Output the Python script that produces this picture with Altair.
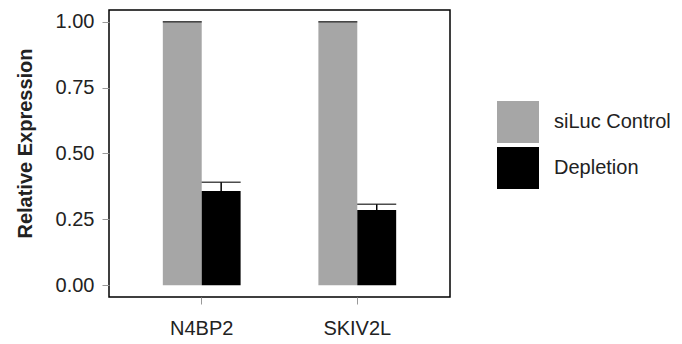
import altair as alt
import pandas as pd

genes = ["N4BP2", "SKIV2L"]
conditions = ["siLuc Control", "Depletion"]
ctrl_mean = [1.0, 1.0]
ctrl_upper = [1.0, 1.0]
dep_mean = [0.358, 0.285]
dep_upper = [0.391, 0.307]
y_ticks = [0.0, 0.25, 0.5, 0.75, 1.0]
colors = ["#a6a6a6", "#000000"]

rows = []
for i, g in enumerate(genes):
    rows.append(dict(gene=g, cond=conditions[0], mean=ctrl_mean[i], upper=ctrl_upper[i]))
    rows.append(dict(gene=g, cond=conditions[1], mean=dep_mean[i], upper=dep_upper[i]))
df = pd.DataFrame(rows)

FONT = "Liberation Sans"
TXT = "#222222"

x_enc = alt.X(
    "gene:N", sort=genes,
    scale=alt.Scale(paddingInner=0.5, paddingOuter=0.346),
    axis=alt.Axis(title=None, labelAngle=0, domain=False, tickSize=7, tickColor="#999999",
                  labelFontSize=20, labelColor=TXT, labelFont=FONT, labelPadding=14),
)
xoff = alt.XOffset("cond:N", sort=conditions, scale=alt.Scale(paddingInner=0, paddingOuter=0))
y_scale = alt.Scale(domain=[-0.045, 1.045], nice=False, zero=False)
y_axis = alt.Axis(values=y_ticks, format=".2f", title="Relative Expression", grid=False, domain=False,
                  tickSize=7, tickColor="#999999", labelFontSize=20, labelColor=TXT, labelFont=FONT,
                  labelPadding=8, titleFontSize=20, titleFontWeight="bold", titleColor=TXT,
                  titleFont=FONT, titlePadding=20, titleY=133)

base = alt.Chart(df)

bars = base.mark_bar().encode(
    x=x_enc, xOffset=xoff,
    y=alt.Y("mean:Q", scale=y_scale, axis=y_axis),
    y2=alt.datum(0),
    color=alt.Color("cond:N", sort=conditions,
                    scale=alt.Scale(domain=conditions, range=colors),
                    legend=alt.Legend(title=None, orient="none", legendX=388, legendY=91,
                                      symbolType="square", symbolSize=1764, symbolStrokeWidth=0,
                                      symbolOpacity=1, labelFontSize=20, labelColor=TXT,
                                      labelFont=FONT, labelOffset=15, rowPadding=4)),
)

rules = base.mark_rule(color="black", strokeWidth=1.5).encode(
    x=x_enc, xOffset=xoff,
    y=alt.Y("mean:Q", scale=y_scale),
    y2="upper:Q",
)

caps = base.mark_tick(color="black", thickness=1.5, size=39).encode(
    x=x_enc, xOffset=xoff,
    y=alt.Y("upper:Q", scale=y_scale),
)

chart = alt.layer(bars, rules, caps).properties(
    width=341, height=287,
    background="white",
    padding={"left": 7, "top": 2, "right": 0, "bottom": 0},
).configure_view(stroke="black", strokeWidth=1.5)

chart.save("out.html", embed_options={"renderer": "svg", "actions": False})
